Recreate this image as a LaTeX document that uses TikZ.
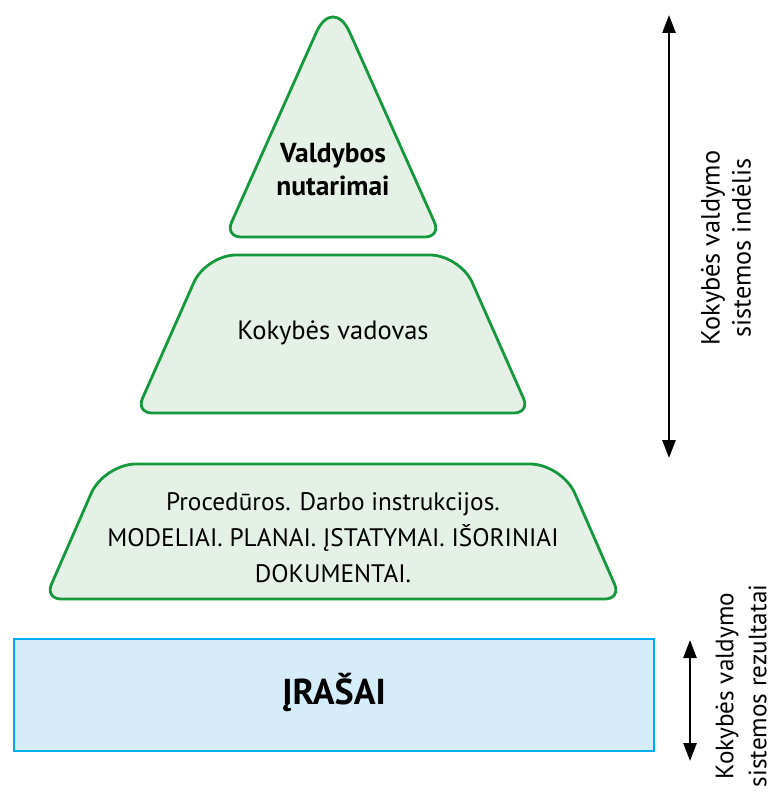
\documentclass[tikz,border=0pt]{standalone}
\usepackage{fontspec}
\setmainfont{PT Sans}
\usetikzlibrary{calc,arrows.meta}

\definecolor{layerline}{HTML}{16993E}
\definecolor{layerfill}{HTML}{E5F0E6}
\definecolor{recline}{HTML}{00AEEF}
\definecolor{recfill}{HTML}{D5ECF9}

\tikzset{
  % rounded corner at vertex #1 between neighbours #2 (incoming) and #3 (outgoing), cut length #4
  rc/.style n args={4}{insert path={
    -- ($(#1)!#4!(#2)$)
    .. controls ($(#1)!#4*0.4477!(#2)$) and ($(#1)!#4*0.4477!(#3)$) ..
    ($(#1)!#4!(#3)$)}},
  layer/.style={draw=layerline, fill=layerfill, line width=2.8pt},
  txt/.style={align=center, inner sep=0pt},
  dblarrow/.style={line width=2.6pt, {Triangle[length=18pt,width=13pt]}-{Triangle[length=18pt,width=13pt]}},
}

\begin{document}
\begin{tikzpicture}[x=1pt,y=-1pt]
\useasboundingbox (0,0) rectangle (773,791);
\fill[white] (0,0) rectangle (773,791);

% top triangle
\coordinate (tA) at (333,-5);
\coordinate (tL) at (225,237);
\coordinate (tR) at (441,237);
\draw[layer] ($(tL)!0.5!(tR)$) [rc={tR}{tL}{tA}{16pt}] [rc={tA}{tR}{tL}{41pt}] [rc={tL}{tA}{tR}{16pt}] -- cycle;

% middle layer
\coordinate (mTL) at (206,255);
\coordinate (mTR) at (460,255);
\coordinate (mBR) at (530,413);
\coordinate (mBL) at (136,413);
\draw[layer] ($(mTL)!0.5!(mTR)$) [rc={mTR}{mTL}{mBR}{30pt}] [rc={mBR}{mTR}{mBL}{16pt}]
  [rc={mBL}{mBR}{mTL}{16pt}] [rc={mTL}{mBL}{mTR}{30pt}] -- cycle;

% lower layer
\coordinate (lTL) at (104,464);
\coordinate (lTR) at (562,464);
\coordinate (lBR) at (621,599);
\coordinate (lBL) at (45,599);
\draw[layer] ($(lTL)!0.5!(lTR)$) [rc={lTR}{lTL}{lBR}{32pt}] [rc={lBR}{lTR}{lBL}{16pt}]
  [rc={lBL}{lBR}{lTL}{16pt}] [rc={lTL}{lBL}{lTR}{32pt}] -- cycle;

% records box
\draw[draw=recline, fill=recfill, line width=2.6pt] (14,639) rectangle (654,751);

% texts
\node[txt, font=\bfseries\fontsize{27.5}{33}\selectfont] (nutarimai) at (333,170) {Valdybos\\nutarimai};
\node[txt, font=\fontsize{26.5}{36}\selectfont] (vadovas) at (333,333) {Kokybės vadovas};
\node[txt, font=\fontsize{25.3}{36}\selectfont] (proc) at (333,538)
  {Procedūros. Darbo instrukcijos.\\MODELIAI. PLANAI. ĮSTATYMAI. IŠORINIAI\\DOKUMENTAI.};
\node[txt, font=\bfseries\fontsize{36}{40}\selectfont] (irasai) at (334,692) {ĮRAŠAI};

% side arrows
\coordinate (upTop) at (669,15);
\coordinate (upBot) at (669,458);
\draw[dblarrow] (upTop) -- (upBot);
\coordinate (loTop) at (690,640);
\coordinate (loBot) at (690,761);
\draw[dblarrow] (loTop) -- (loBot);

\node[txt, rotate=90, font=\fontsize{26.3}{31}\selectfont] (lblTop) at (726,248) {Kokybės valdymo\\sistemos indėlis};
\node[txt, rotate=90, font=\fontsize{25.2}{33}\selectfont] (lblBot) at (741,686) {Kokybės valdymo\\sistemos rezultatai};
\end{tikzpicture}
\end{document}
